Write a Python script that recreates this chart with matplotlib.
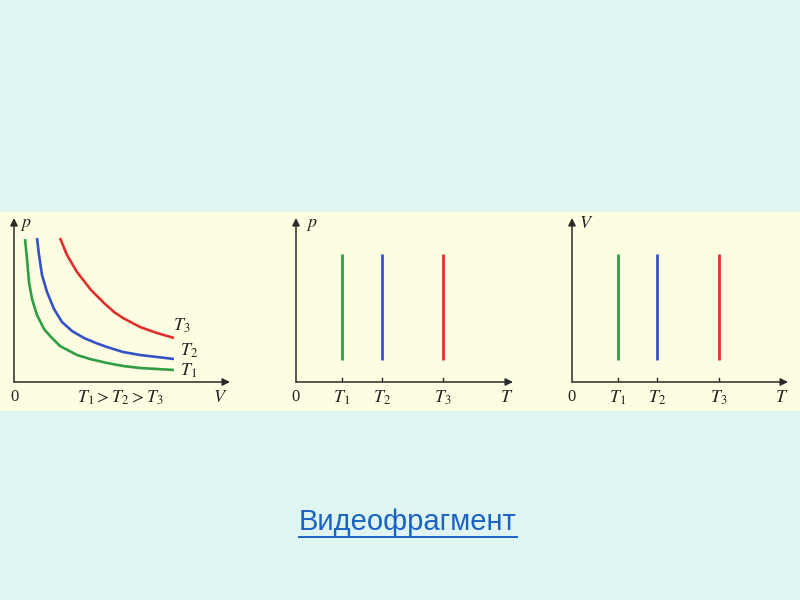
import matplotlib
matplotlib.use("Agg")
import matplotlib.pyplot as plt
from matplotlib.patches import Rectangle
from matplotlib.lines import Line2D

plt.rcParams['mathtext.fontset'] = 'stix'

# ---- data (arbitrary units) ----
iso_V_T1 = [11, 13, 15, 18, 23, 30, 37, 46, 63, 76, 93, 109, 126, 143, 160]
iso_p_T1 = [143, 123, 100, 83, 67, 53, 45, 36, 27, 23, 19, 16, 14, 13, 12]
iso_V_T2 = [23, 25, 28, 33, 40, 48, 58, 70, 82, 93, 109, 126, 143, 160]
iso_p_T2 = [144, 127, 107, 90, 73, 60, 51, 44, 39, 35, 30, 27, 25, 23]
iso_V_T3 = [46, 53, 63, 77, 90, 100, 109, 126, 143, 160]
iso_p_T3 = [144, 127, 110, 92, 79, 70, 64, 55, 49, 44]

temps_pT = [46, 86, 147]      # T1, T2, T3 on p-T diagram
temps_VT = [46, 85, 147]      # T1, T2, T3 on V-T diagram
vert_range = [22, 128]        # extent of vertical lines
tick_labels = [r'$T_1$', r'$T_2$', r'$T_3$']
colors = ['#2f9e45', '#3553c6', '#e0302c']

W, H = 800, 600
fig = plt.figure(figsize=(8, 6), dpi=100, facecolor='#def5f2')

# yellow band
fig.patches.append(Rectangle((0, (H - 411) / H), 1, (411 - 212) / H,
                             transform=fig.transFigure, facecolor='#fdfde2',
                             edgecolor='none', zorder=-5))

def make_axes(x0, xend, y0=382, ytop=218):
    ax = fig.add_axes([x0 / W, (H - y0) / H, (xend - x0) / W, (y0 - ytop) / H])
    ax.set_zorder(2)
    ax.set_xlim(0, xend - x0)
    ax.set_ylim(0, y0 - ytop)
    ax.axis('off')
    ax.patch.set_alpha(0)
    ap = dict(arrowstyle='-|>', color='#2a2a2a', lw=1.1, mutation_scale=11,
              shrinkA=0, shrinkB=0)
    ax.annotate('', xy=(1, 0), xytext=(0, 0), xycoords='axes fraction',
                textcoords='axes fraction', arrowprops=ap, annotation_clip=False)
    ax.annotate('', xy=(0, 1), xytext=(0, 0), xycoords='axes fraction',
                textcoords='axes fraction', arrowprops=ap, annotation_clip=False)
    return ax

tfont = dict(fontsize=13, color='#222222')

# ---- panel 1: isotherms ----
ax1 = make_axes(14, 230)
for V, p, c in [(iso_V_T1, iso_p_T1, colors[0]), (iso_V_T2, iso_p_T2, colors[1]),
                (iso_V_T3, iso_p_T3, colors[2])]:
    ax1.plot(V, p, color=c, lw=1.9, solid_capstyle='butt', solid_joinstyle='round')
ax1.text(168, 56, r'$T_3$', ha='center', va='center', **tfont)
ax1.text(175, 31, r'$T_2$', ha='center', va='center', **tfont)
ax1.text(175, 11, r'$T_1$', ha='center', va='center', **tfont)
ax1.text(0, -15, '0', ha='center', va='center', fontsize=12, color='#222222',
         family='Liberation Serif')
ax1.text(206, -15, r'$V$', ha='center', va='center', **tfont)
ax1.text(106, -16, r'$T_1 > T_2 > T_3$', ha='center', va='center', **tfont)
ax1.text(12, 158, r'$p$', ha='center', va='center', **tfont)

# ---- panel 2: p-T ----
ax2 = make_axes(296, 513)
for t, c in zip(temps_pT, colors):
    ax2.plot([t, t], vert_range, color=c, lw=2.0, solid_capstyle='butt')
    ax2.plot([t, t], [-4, 4], color='#2a2a2a', lw=1.0)
for t, lab in zip(temps_pT, tick_labels):
    ax2.text(t, -16, lab, ha='center', va='center', **tfont)
ax2.text(0, -15, '0', ha='center', va='center', fontsize=12, color='#222222',
         family='Liberation Serif')
ax2.text(211, -15, r'$T$', ha='center', va='center', **tfont)
ax2.text(16, 158, r'$p$', ha='center', va='center', **tfont)

# ---- panel 3: V-T ----
ax3 = make_axes(572, 788)
for t, c in zip(temps_VT, colors):
    ax3.plot([t, t], vert_range, color=c, lw=2.0, solid_capstyle='butt')
    ax3.plot([t, t], [-4, 4], color='#2a2a2a', lw=1.0)
for t, lab in zip(temps_VT, tick_labels):
    ax3.text(t, -16, lab, ha='center', va='center', **tfont)
ax3.text(0, -15, '0', ha='center', va='center', fontsize=12, color='#222222',
         family='Liberation Serif')
ax3.text(210, -15, r'$T$', ha='center', va='center', **tfont)
ax3.text(14, 159, r'$V$', ha='center', va='center', **tfont)

# ---- link text ----
link_color = '#1a62c4'
txt = fig.text(408 / W, (H - 522) / H, 'Видеофрагмент', ha='center', va='center',
               fontsize=21, color=link_color, family='Liberation Sans')
fig.canvas.draw()
bb = txt.get_window_extent().transformed(fig.transFigure.inverted())
fig.lines.append(Line2D([bb.x0, bb.x1], [(H - 537) / H] * 2, transform=fig.transFigure,
                        color=link_color, lw=1.4))

fig.savefig('out.png', dpi=100, facecolor=fig.get_facecolor())
